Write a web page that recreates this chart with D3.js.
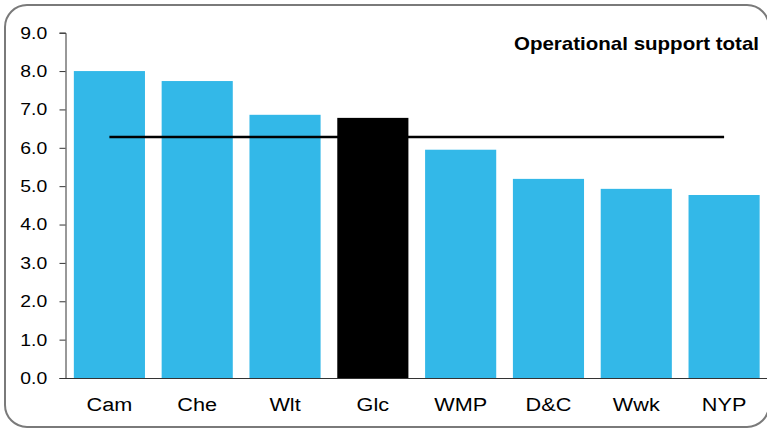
<!DOCTYPE html>
<html><head><meta charset="utf-8">
<script src="https://cdn.jsdelivr.net/npm/d3@7"></script>
<style>body{margin:0;background:#fff}svg{display:block}text{font-family:"Liberation Sans",Arial,sans-serif}</style>
</head><body><svg id="c" width="767" height="429"></svg>
<script>
const categories = ["Cam","Che","Wlt","Glc","WMP","D&C","Wwk","NYP"];
const values = [8.0, 7.74, 6.86, 6.78, 5.95, 5.19, 4.93, 4.77];
const average = [6.28, 6.28, 6.28, 6.28, 6.28, 6.28, 6.28, 6.28];
const highlight = "Glc";
const yTicks = [0,1,2,3,4,5,6,7,8,9];
const title = "Operational support total";

const svg = d3.select("#c");
const W = 767, H = 429;
const SX = 1.14;
const m = {left: 65.5, right: -1, top: 32.7, bottom: 51};
const x = d3.scaleBand().domain(categories).range([m.left, W - m.right]).paddingInner(0.19).paddingOuter(0.095);
const y = d3.scaleLinear().domain([0, 9]).range([378, 32.7]);

svg.append("rect").attr("x", 5).attr("y", 5).attr("width", 764).attr("height", 422)
  .attr("rx", 22).attr("fill", "#fff").attr("stroke", "#7a7a7a").attr("stroke-width", 2);

svg.selectAll("rect.bar").data(categories).join("rect").attr("class", "bar")
  .attr("x", d => x(d)).attr("width", x.bandwidth())
  .attr("y", (d, i) => y(values[i])).attr("height", (d, i) => y(0) - y(values[i]))
  .attr("fill", d => d === highlight ? "#000" : "#33b8e8");

const yAxis = svg.append("g").attr("transform", `translate(${m.left},0)`)
  .call(d3.axisLeft(y).tickValues(yTicks).tickFormat(d3.format(".1f")).tickSize(6).tickPadding(10));
yAxis.select(".domain").attr("stroke", "#333");
yAxis.selectAll(".tick line").attr("stroke", "#333");
yAxis.selectAll("text").attr("font-size", 17).attr("fill", "#000")
  .attr("font-family", "Liberation Sans, Arial, sans-serif").attr("transform", `scale(${SX},1)`);

const xAxis = svg.append("g").attr("transform", `translate(0,${y(0)})`)
  .call(d3.axisBottom(x).tickSize(0).tickPadding(20));
xAxis.select(".domain").attr("stroke", "#333").attr("d", `M${m.left},0.5H${W}`);
xAxis.selectAll("text").attr("font-size", 19).attr("fill", "#000")
  .attr("font-family", "Liberation Sans, Arial, sans-serif").attr("transform", `scale(${SX},1)`);

const line = d3.line().x((d, i) => x(categories[i]) + x.bandwidth() / 2).y(d => y(d));
svg.append("path").datum(average).attr("d", line).attr("fill", "none").attr("stroke", "#000").attr("stroke-width", 2.5);

svg.append("text").attr("transform", `translate(759,50) scale(${SX},1)`).attr("text-anchor", "end")
  .attr("font-size", 18).attr("font-weight", "bold").attr("fill", "#000").text(title);
</script></body></html>
